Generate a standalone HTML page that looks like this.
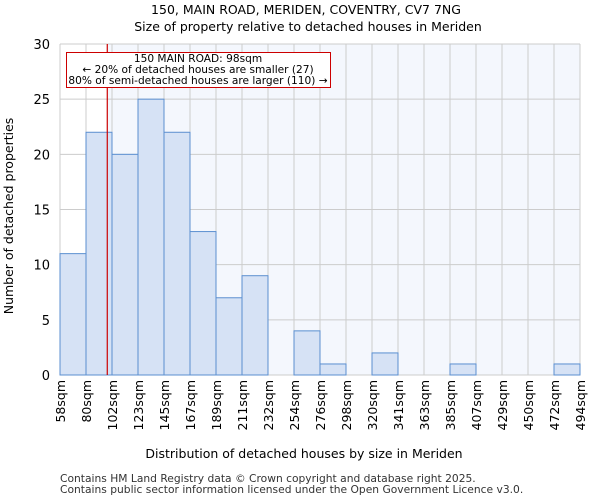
<!DOCTYPE html>
<html><head><meta charset="utf-8"><style>
body{margin:0;background:#fff;font-family:"DejaVu Sans","Liberation Sans",sans-serif;}
</style></head><body>
<svg id="chart" width="600" height="500" xmlns="http://www.w3.org/2000/svg" font-family="DejaVu Sans, Liberation Sans, sans-serif">
<text x="306" y="14" text-anchor="middle" font-size="12.5">150, MAIN ROAD, MERIDEN, COVENTRY, CV7 7NG</text>
<text x="308" y="31" text-anchor="middle" font-size="12.5">Size of property relative to detached houses in Meriden</text>
<g id="plot"></g>
<text x="304" y="458" text-anchor="middle" font-size="12.5">Distribution of detached houses by size in Meriden</text>
<text transform="translate(13,216) rotate(-90)" text-anchor="middle" font-size="12.5">Number of detached properties</text>
<text x="60" y="482" font-size="10.7" fill="#333">Contains HM Land Registry data © Crown copyright and database right 2025.</text>
<text x="60" y="493" font-size="10.7" fill="#333">Contains public sector information licensed under the Open Government Licence v3.0.</text>
</svg>
<script>
const binLabels=["58sqm","80sqm","102sqm","123sqm","145sqm","167sqm","189sqm","211sqm","232sqm","254sqm","276sqm","298sqm","320sqm","341sqm","363sqm","385sqm","407sqm","429sqm","450sqm","472sqm","494sqm"];
const binEdges=[58,80,102,123,145,167,189,211,232,254,276,298,320,341,363,385,407,429,450,472,494];
const counts=[11,22,20,25,22,13,7,9,0,4,1,0,2,0,0,1,0,0,0,1];
const yTicks=[0,5,10,15,20,25,30];
const markerValue=98;
const NS="http://www.w3.org/2000/svg";
const L=60,R=580,T=44,B=375,yMax=30;
const nb=counts.length;
function xIdx(i){return L+(R-L)*i/nb;}
function xVal(v){for(let i=0;i<nb;i++){if(v<=binEdges[i+1]){return xIdx(i)+(v-binEdges[i])/(binEdges[i+1]-binEdges[i])*(R-L)/nb;}}return R;}
function y(v){return B-(B-T)*v/yMax;}
const g=document.getElementById('plot');
function mk(t,a){const e=document.createElementNS(NS,t);for(const k in a)e.setAttribute(k,a[k]);g.appendChild(e);return e;}
const mx=xVal(markerValue);
let bg=mk('rect',{x:L,y:T,width:R-L,height:B-T,fill:'#ffffff'});


let bg2=mk('rect',{x:mx,y:T,width:R-mx,height:B-T,fill:'#f4f7fd'});


for(let i=0;i<=nb;i++){let l=mk('line',{x1:xIdx(i),x2:xIdx(i),y1:T,y2:B,stroke:'#cccccc','stroke-width':1});

}
yTicks.forEach(t=>{let l=mk('line',{x1:L,x2:R,y1:y(t),y2:y(t),stroke:'#cccccc','stroke-width':1});


let tx=mk('text',{x:L-10,y:y(t)+5,'text-anchor':'end','font-size':13});tx.textContent=t;

});
counts.forEach((c,i)=>{if(c>0){let r=mk('rect',{x:xIdx(i),y:y(c),width:(R-L)/nb,height:B-y(c),fill:'#d6e2f5',stroke:'#5b8fd0','stroke-width':1});

}});
binLabels.forEach((s,i)=>{let tx=mk('text',{transform:`translate(${xIdx(i)+5},380) rotate(-90)`,'text-anchor':'end','font-size':12.5});tx.textContent=s;

});
let ml=mk('line',{x1:mx,x2:mx,y1:T,y2:B,stroke:'#cc0000','stroke-width':1.2});


let box=mk('rect',{x:66.5,y:52.5,width:264,height:35,fill:'#fff',stroke:'#cc0000','stroke-width':1});


["150 MAIN ROAD: 98sqm","← 20% of detached houses are smaller (27)","80% of semi-detached houses are larger (110) →"].forEach((s,i)=>{let tx=mk('text',{x:198,y:62+i*11,'text-anchor':'middle','font-size':10.6});tx.textContent=s;

});
</script>
</body></html>
